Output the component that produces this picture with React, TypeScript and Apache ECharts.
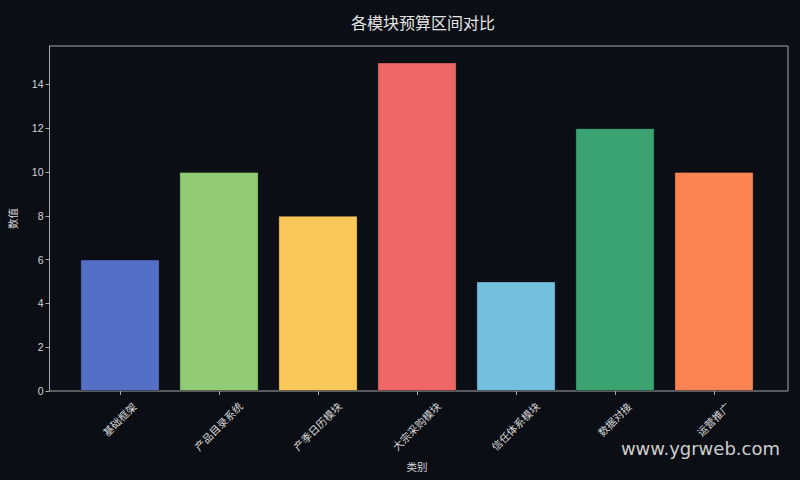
import React, { useRef, useEffect } from 'react';
import * as echarts from 'echarts';

const categories = ['基础框架', '产品目录系统', '产季日历模块', '大宗采购模块', '信任体系模块', '数据对接', '运营推广'];
const values = [6, 10, 8, 15, 5, 12, 10];
const colors = ['#5470c6', '#91cc75', '#fac858', '#ee6666', '#73c0de', '#3ba272', '#fc8452'];

const textColor = '#d6d6d6';
const frameColor = '#a8a8a8';
const fontFamily = "'Liberation Sans', 'Noto Sans CJK SC', sans-serif";
const yMax = 15.75;
const labelSize = 10.5;

const App: React.FC = () => {
  const chartRef = useRef<HTMLDivElement>(null);

  useEffect(() => {
    if (!chartRef.current) return;
    const myChart = echarts.init(chartRef.current, null, { renderer: 'svg' });

    const option: echarts.EChartsOption = {
      animation: false,
      backgroundColor: '#0b0e15',
      textStyle: { fontFamily },
      title: {
        text: '各模块预算区间对比',
        left: 418,
        top: 9,
        textAlign: 'center',
        textStyle: { color: '#e4e4e4', fontSize: 16, fontWeight: 'normal', fontFamily: "'Noto Sans CJK SC', sans-serif" }
      },
      grid: [
        // bars: category bands of 99px, centred as in the reference
        { left: 70.5, right: 36.5, top: 46, bottom: 89 },
        // frame + y axis
        {
          left: 47,
          right: 12,
          top: 46,
          bottom: 89,
          show: true,
          borderColor: frameColor,
          borderWidth: 1,
          backgroundColor: 'transparent'
        }
      ],
      xAxis: [
        {
          type: 'category',
          gridIndex: 0,
          data: categories,
          name: '类别',
          nameLocation: 'middle',
          nameGap: 71,
          nameTextStyle: { color: textColor, fontSize: labelSize },
          axisLine: { show: false },
          axisTick: { show: true, alignWithLabel: true, length: 4, lineStyle: { color: frameColor } },
          axisLabel: {
            interval: 0,
            rotate: 45,
            align: 'center',
            verticalAlign: 'middle',
            margin: 14,
            color: textColor,
            fontSize: labelSize,
            formatter: (name: string) => `{l${name.length}|${name}}`,
            rich: {
              l4: { padding: [21, 21, 0, 0], color: textColor, fontSize: labelSize },
              l5: { padding: [26, 26, 0, 0], color: textColor, fontSize: labelSize },
              l6: { padding: [31, 31, 0, 0], color: textColor, fontSize: labelSize }
            }
          }
        },
        {
          type: 'value',
          gridIndex: 1,
          show: false
        }
      ],
      yAxis: [
        {
          type: 'value',
          gridIndex: 0,
          min: 0,
          max: yMax,
          show: false
        },
        {
          type: 'value',
          gridIndex: 1,
          min: 0,
          max: yMax,
          interval: 2,
          name: '数值',
          nameLocation: 'middle',
          nameGap: 31,
          nameRotate: 90,
          nameTextStyle: { color: textColor, fontSize: labelSize },
          splitLine: { show: false },
          axisLine: { show: true, onZero: false, lineStyle: { color: frameColor } },
          axisTick: { show: true, length: 4, lineStyle: { color: frameColor } },
          axisLabel: {
            color: textColor,
            fontSize: labelSize,
            margin: 6,
            showMaxLabel: false
          }
        }
      ],
      series: [
        {
          type: 'bar',
          xAxisIndex: 0,
          yAxisIndex: 0,
          barWidth: '80%',
          data: values.map((v, i) => ({
            value: v,
            itemStyle: { color: colors[i], borderColor: 'rgba(11,14,21,0.35)', borderWidth: 1 }
          }))
        }
      ],
      graphic: [
        {
          type: 'text',
          right: 20,
          top: 439,
          style: {
            text: 'www.ygrweb.com',
            fill: 'rgba(230,230,230,0.9)',
            fontSize: 18,
            fontFamily: "'DejaVu Sans', sans-serif"
          }
        }
      ]
    };

    myChart.setOption(option);

    const handleResize = () => {
      myChart.resize();
    };
    window.addEventListener('resize', handleResize);

    return () => {
      window.removeEventListener('resize', handleResize);
      myChart.dispose();
    };
  }, []);

  return <div ref={chartRef} style={{ width: '800px', height: '480px', position: 'absolute', left: 0, top: 0 }} />;
};

export default App;
